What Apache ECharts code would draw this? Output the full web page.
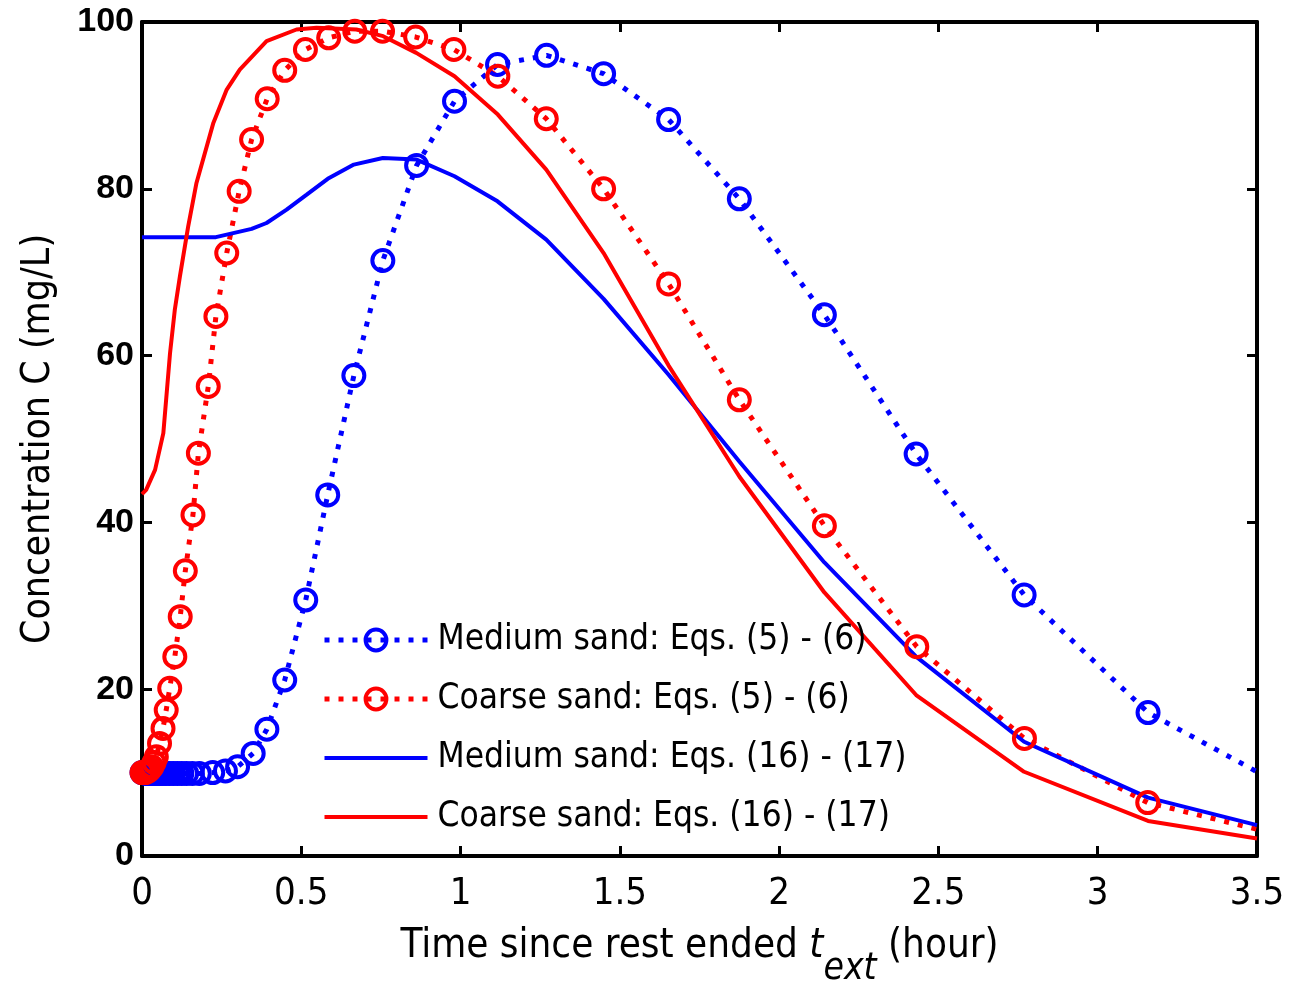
<!DOCTYPE html>
<html>
<head>
<meta charset="utf-8">
<script src="https://cdn.jsdelivr.net/npm/echarts@6/dist/echarts.min.js"></script>
<style>
html,body{margin:0;padding:0;background:#fff;}
#chart{width:1298px;height:989px;}
</style>
</head>
<body>
<div id="chart"></div>
<script>
// ---- Data ----
// Medium sand: Eqs. (5) - (6)  (dotted, circle markers)
const medEq56T = [0, 0.004, 0.008, 0.012, 0.017, 0.022, 0.028, 0.034, 0.041, 0.048, 0.056, 0.065, 0.075, 0.086, 0.098, 0.111, 0.125, 0.14, 0.158, 0.18, 0.222, 0.262, 0.3, 0.349, 0.392, 0.448, 0.514, 0.583, 0.665, 0.756, 0.862, 0.981, 1.116, 1.27, 1.449, 1.653, 1.875, 2.142, 2.43, 2.769, 3.158, 3.5];
const medEq56C = [10.0, 10.0, 10.0, 9.9, 9.9, 9.9, 9.9, 9.9, 9.9, 9.9, 9.9, 9.9, 9.9, 9.9, 9.9, 9.9, 9.9, 9.9, 9.9, 9.9, 10.0, 10.2, 10.7, 12.3, 15.2, 21.1, 30.7, 43.3, 57.6, 71.4, 82.8, 90.5, 94.9, 96.0, 93.8, 88.3, 78.8, 64.9, 48.2, 31.3, 17.2, 10.1];
// Coarse sand: Eqs. (5) - (6)  (dotted, circle markers)
const coaEq56T = [0, 0.005, 0.01, 0.015, 0.02, 0.025, 0.031, 0.038, 0.045, 0.055, 0.066, 0.076, 0.087, 0.103, 0.12, 0.136, 0.16, 0.177, 0.208, 0.232, 0.266, 0.305, 0.344, 0.393, 0.448, 0.513, 0.586, 0.668, 0.755, 0.859, 0.979, 1.117, 1.269, 1.449, 1.653, 1.875, 2.142, 2.432, 2.77, 3.157, 3.5];
const coaEq56C = [10.0, 10.0, 10.0, 10.1, 10.2, 10.4, 10.7, 11.2, 11.9, 13.5, 15.3, 17.5, 20.1, 23.9, 28.7, 34.2, 40.9, 48.3, 56.3, 64.7, 72.3, 79.7, 85.9, 90.8, 94.2, 96.7, 98.1, 98.9, 98.9, 98.2, 96.7, 93.5, 88.4, 80.0, 68.6, 54.7, 39.6, 25.1, 14.1, 6.4, 3.2];
// Medium sand: Eqs. (16) - (17)  (solid)
const medEq1617T = [0, 0.232, 0.344, 0.391, 0.454, 0.517, 0.583, 0.665, 0.756, 0.862, 0.981, 1.116, 1.269, 1.449, 1.653, 1.875, 2.142, 2.43, 2.769, 3.158, 3.5];
const medEq1617C = [74.2, 74.2, 75.2, 75.9, 77.5, 79.3, 81.2, 82.9, 83.7, 83.5, 81.5, 78.5, 73.9, 66.8, 57.7, 47.3, 35.2, 23.9, 13.7, 7.0, 3.7];
// Coarse sand: Eqs. (16) - (17)  (solid)
const coaEq1617T = [0, 0.013, 0.041, 0.067, 0.088, 0.103, 0.119, 0.145, 0.171, 0.224, 0.266, 0.307, 0.391, 0.485, 0.548, 0.673, 0.757, 0.861, 0.981, 1.117, 1.269, 1.449, 1.653, 1.875, 2.142, 2.43, 2.769, 3.158, 3.5];
const coaEq1617C = [43.4, 43.9, 46.3, 50.7, 60.3, 65.5, 69.5, 75.5, 80.7, 87.9, 91.9, 94.3, 97.7, 99.1, 99.3, 99.1, 98.3, 96.3, 93.5, 88.9, 82.3, 72.3, 58.8, 45.5, 31.6, 19.3, 10.1, 4.2, 2.1];

const seriesNames = ['Medium sand: Eqs. (5) - (6)', 'Coarse sand: Eqs. (5) - (6)', 'Medium sand: Eqs. (16) - (17)', 'Coarse sand: Eqs. (16) - (17)'];
const xTicks = [0, 0.5, 1, 1.5, 2, 2.5, 3, 3.5];
const yTicks = [0, 20, 40, 60, 80, 100];

// ---- Build ----
const BLUE = '#0000ff', RED = '#ff0000', CLEAR = 'rgba(0,0,0,0)';
const NARROW = '"Liberation Sans Narrow", "DejaVu Sans Condensed", sans-serif';
const DOT = { width: 5, type: [5, 9], cap: 'butt' };

function pairs(t, c, markerOnLast) {
  return t.map((x, i) => {
    const item = { value: [x, c[i]] };
    if (!markerOnLast && i === t.length - 1) item.symbol = 'none';
    return item;
  });
}

function dottedSeries(name, color, t, c) {
  return {
    name, type: 'line', data: pairs(t, c, false),
    symbol: 'circle', symbolSize: 21, showAllSymbol: true,
    color,
    lineStyle: Object.assign({ color }, DOT),
    itemStyle: { color: CLEAR, borderColor: color, borderWidth: 4 },
    emphasis: { disabled: true }, clip: false
  };
}
function solidSeries(name, color, t, c) {
  return {
    name, type: 'line', data: pairs(t, c, true),
    symbol: 'none', color,
    lineStyle: { color, width: 4 },
    itemStyle: { color: CLEAR, borderColor: CLEAR, borderWidth: 0 },
    emphasis: { disabled: true }
  };
}
const legendColors = [BLUE, RED, BLUE, RED];
const legendData = seriesNames.map((n, i) => {
  const col = legendColors[i];
  if (i < 2) {
    return { name: n, itemStyle: { color: CLEAR, borderColor: col, borderWidth: 4 },
             lineStyle: Object.assign({ color: col }, DOT) };
  }
  return { name: n, itemStyle: { color: CLEAR, borderColor: CLEAR, borderWidth: 0 },
           lineStyle: { color: col, width: 4, type: 'solid' } };
});

const axisLineStyle = { show: true, onZero: false, lineStyle: { color: '#000', width: 4 } };
const tickStyle = { show: true, inside: true, length: 10, lineStyle: { color: '#000', width: 3 } };

const chart = echarts.init(document.getElementById('chart'), null, { renderer: 'canvas' });
chart.setOption({
  animation: false,
  backgroundColor: '#fff',
  grid: { left: 142, right: 41, top: 22, bottom: 133, containLabel: false, outerBoundsMode: 'none' },
  xAxis: [
    {
      type: 'value', position: 'bottom', min: xTicks[0], max: xTicks[xTicks.length - 1], interval: 0.5,
      axisLine: axisLineStyle, axisTick: tickStyle, splitLine: { show: false },
      axisLabel: { color: '#000', fontSize: 38, fontFamily: NARROW, margin: 19 },
      name: '{a|Time since rest ended }{t|t}{s|ext}{a| (hour)}',
      nameLocation: 'middle', nameGap: 71,
      nameTextStyle: {
        rich: {
          a: { fontSize: 40, fontFamily: NARROW, color: '#000', verticalAlign: 'top', lineHeight: 44 },
          t: { fontSize: 40, fontFamily: NARROW, fontStyle: 'italic', color: '#000', verticalAlign: 'top', lineHeight: 44 },
          s: { fontSize: 37, fontFamily: NARROW, fontStyle: 'italic', color: '#000', verticalAlign: 'top', lineHeight: 44, padding: [24, 0, 0, 0] }
        }
      }
    },
    {
      type: 'value', position: 'top', min: xTicks[0], max: xTicks[xTicks.length - 1], interval: 0.5,
      axisLine: axisLineStyle, axisTick: tickStyle, splitLine: { show: false }, axisLabel: { show: false }
    }
  ],
  yAxis: [
    {
      type: 'value', position: 'left', min: yTicks[0], max: yTicks[yTicks.length - 1], interval: 20,
      axisLine: axisLineStyle, axisTick: tickStyle, splitLine: { show: false },
      axisLabel: { color: '#000', fontSize: 34, fontWeight: 'bold', fontFamily: '"Liberation Sans", Arial, sans-serif', margin: 8 },
      name: 'Concentration C (mg/L)', nameLocation: 'middle', nameRotate: 90, nameGap: 84,
      nameTextStyle: { fontSize: 39, fontFamily: NARROW, color: '#000' }
    },
    {
      type: 'value', position: 'right', min: yTicks[0], max: yTicks[yTicks.length - 1], interval: 20,
      axisLine: axisLineStyle, axisTick: tickStyle, splitLine: { show: false }, axisLabel: { show: false }
    }
  ],
  legend: {
    orient: 'vertical', left: 322, top: 618, padding: 0,
    itemWidth: 103, itemHeight: 26, itemGap: 15,
    data: legendData,
    textStyle: { fontSize: 35, fontFamily: NARROW, color: '#000', lineHeight: 44, padding: [0, 0, 0, 5] },
    selectedMode: false
  },
  series: [
    dottedSeries(seriesNames[0], BLUE, medEq56T, medEq56C),
    dottedSeries(seriesNames[1], RED, coaEq56T, coaEq56C),
    solidSeries(seriesNames[2], BLUE, medEq1617T, medEq1617C),
    solidSeries(seriesNames[3], RED, coaEq1617T, coaEq1617C)
  ]
});
</script>
</body>
</html>
